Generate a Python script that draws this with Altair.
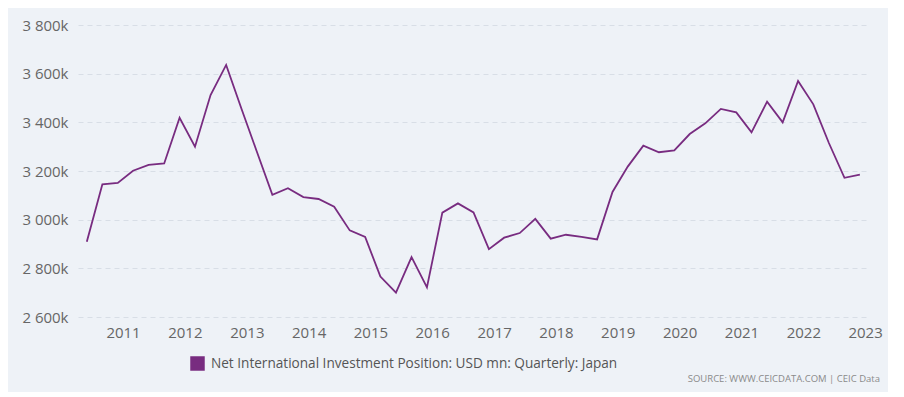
import altair as alt
import pandas as pd

# Quarterly observations, Q2 2010 .. Q4 2022 (plotted at the quarter's last month)
dates = [f"{y}-{m:02d}-01" for y in range(2010, 2023) for m in (3, 6, 9, 12)][1:]

# Net International Investment Position, Japan (USD mn, in thousands)
niip_k = [2909, 3145, 3151, 3201, 3225, 3231, 3419, 3300, 3512, 3636,
          3455, 3280, 3102, 3129, 3093, 3085, 3053, 2956, 2929, 2766,
          2700, 2846, 2722, 3029, 3067, 3030, 2879, 2926, 2945, 3003,
          2922, 2938, 2929, 2919, 3114, 3218, 3304, 3277, 3285, 3352,
          3396, 3455, 3441, 3359, 3485, 3400, 3570, 3474, 3315, 3172, 3185]

series_name = "Net International Investment Position: USD mn: Quarterly: Japan"
source_text = "SOURCE: WWW.CEICDATA.COM | CEIC Data"
y_ticks = [2600, 2800, 3000, 3200, 3400, 3600, 3800]
x_years = list(range(2011, 2024))

df = pd.DataFrame({"date": dates, "v": niip_k, "series": series_name})

purple = "#782c80"
font = "Open Sans"

line = alt.Chart(df).mark_line(strokeWidth=1.8).encode(
    x=alt.X(
        "date:T",
        title=None,
        scale=alt.Scale(domain=[alt.DateTime(year=2010, month=4, date=10),
                                alt.DateTime(year=2023, month=1, date=18)]),
        axis=alt.Axis(
            values=[alt.DateTime(year=y, month=1, date=1) for y in x_years],
            format="%Y", grid=False, domain=False, ticks=False,
            labelFontSize=15, labelColor="#666666", labelPadding=8,
            labelFont=font,
        ),
    ),
    y=alt.Y(
        "v:Q",
        title=None,
        scale=alt.Scale(domain=[2600, 3800], nice=False, zero=False),
        axis=alt.Axis(
            values=y_ticks,
            labelExpr="replace(format(datum.value, ','), ',', ' ') + 'k'",
            grid=True, gridDash=[5, 4], gridColor="#d8dee6", gridWidth=1,
            domain=False, ticks=False, labelFontSize=15,
            labelColor="#666666", labelPadding=10, labelFont=font,
        ),
    ),
    color=alt.Color(
        "series:N",
        scale=alt.Scale(range=[purple]),
        legend=alt.Legend(
            orient="none", legendX=112, legendY=331, title=None,
            symbolType="square", symbolSize=210, symbolFillColor=purple,
            symbolStrokeWidth=0, labelFontSize=13.6, labelColor="#555555",
            labelFont=font, labelLimit=1000, padding=0, labelOffset=6,
        ),
    ),
)

src = alt.Chart(pd.DataFrame({"t": [source_text]})).mark_text(
    align="right", baseline="middle", fontSize=9.5, color="#8a8a8a", font=font
).encode(x=alt.value(802), y=alt.value(354), text="t:N")

chart = (line + src).properties(
    width=790, height=292,
    autosize=alt.AutoSizeParams(type="none"),
    padding={"left": 70, "top": 17, "right": 20, "bottom": 75},
    background="#eef2f7",
).configure_view(stroke=None)

chart.save("out.html", embed_options={"renderer": "svg", "actions": False})
